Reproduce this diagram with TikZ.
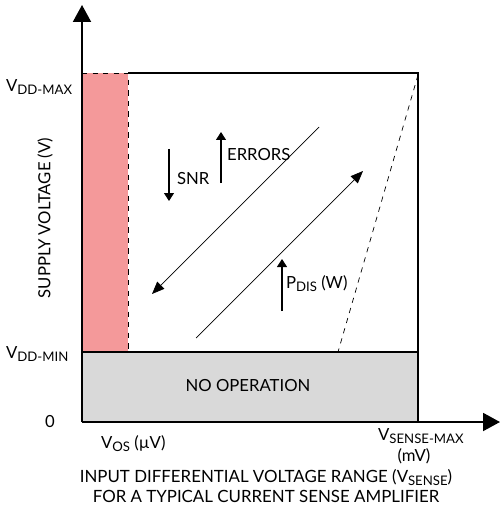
\documentclass[tikz,border=0pt]{standalone}
\usepackage{fontspec}
\setmainfont{Lato}
\usetikzlibrary{arrows.meta}
\newcommand{\lowsub}[1]{\raisebox{-0.35ex}{\fontsize{7.5}{8}\selectfont #1}}
\definecolor{vospink}{HTML}{F4999A}
\definecolor{nogray}{HTML}{D9D9D9}
\begin{document}
\begin{tikzpicture}[x=0.02cm, y=-0.02cm, font=\fontsize{9.5}{11}\selectfont,
	axis/.style={line width=1.1pt, -{Triangle[length=0.34cm,width=0.36cm]}},
	trend/.style={line width=0.4pt, -{Triangle[length=0.25cm,width=0.2cm]}},
	hint/.style={line width=0.6pt, -{Triangle[length=0.16cm,width=0.2cm]}},
	lbl/.style={inner sep=1pt}]
	\useasboundingbox (0,0) rectangle (500,513);
	% regions
	\fill[vospink] (82,73) rectangle (128,352);
	\fill[nogray] (82,352) rectangle (418,422);
	\draw[line width=0.5pt, dashed] (82,73) -- (128,73) -- (128,352);
	\draw[line width=0.6pt] (128,73) -- (418,73) -- (418,422);
	\draw[line width=0.6pt] (82,352) -- (418,352);
	\draw[line width=0.4pt, dashed] (418,75) -- (338,352);
	% axes
	\coordinate (o) at (82,422);
	\coordinate (ytip) at (82,5);
	\coordinate (xtip) at (500,422);
	\draw[axis] (o) -- (ytip);
	\draw[axis] (o) -- (xtip);
	% diagonal trends
	\coordinate (errtop) at (319,127);
	\coordinate (errend) at (152,294);
	\coordinate (pdisbot) at (196,338);
	\coordinate (pdistop) at (363,171);
	\draw[trend] (errtop) -- (errend);
	\draw[trend] (pdisbot) -- (pdistop);
	% small arrows
	\coordinate (snrA) at (169,149);
	\coordinate (snrB) at (169,201);
	\coordinate (errA) at (221,183);
	\coordinate (errB) at (221,132);
	\coordinate (pwrA) at (282,311);
	\coordinate (pwrB) at (282,259);
	\draw[hint] (snrA) -- (snrB);
	\draw[hint] (errA) -- (errB);
	\draw[hint] (pwrA) -- (pwrB);
	\node[lbl, anchor=west] (snr) at (175,179) {SNR};
	\node[lbl, anchor=west] (errors) at (225,155) {ERRORS};
	\node[lbl, anchor=west] (pdis) at (284,284) {P\lowsub{DIS} (W)};
	\node (noop) at (248,386) {NO OPERATION};
	% axis labels
	\node[lbl, anchor=west] (vddmax) at (4,87) {V\lowsub{DD-MAX}};
	\node[lbl, anchor=west] (vddmin) at (4,354) {V\lowsub{DD-MIN}};
	\node (zero) at (50,422) {0};
	\node[lbl, rotate=90] (supply) at (45,218) {SUPPLY VOLTAGE (V)};
	\node[lbl, anchor=west] (vos) at (99,444) {V\lowsub{OS} (µV)};
	\node[lbl, anchor=west] (vsense) at (376,436) {V\lowsub{SENSE-MAX}};
	\node (mv) at (414,456) {(mV)};
	\node[align=center, font=\fontsize{9.6}{11}\selectfont] (caption) at (266,486)
		{INPUT DIFFERENTIAL VOLTAGE RANGE (V\lowsub{SENSE})\\FOR A TYPICAL CURRENT SENSE AMPLIFIER};
\end{tikzpicture}
\end{document}
